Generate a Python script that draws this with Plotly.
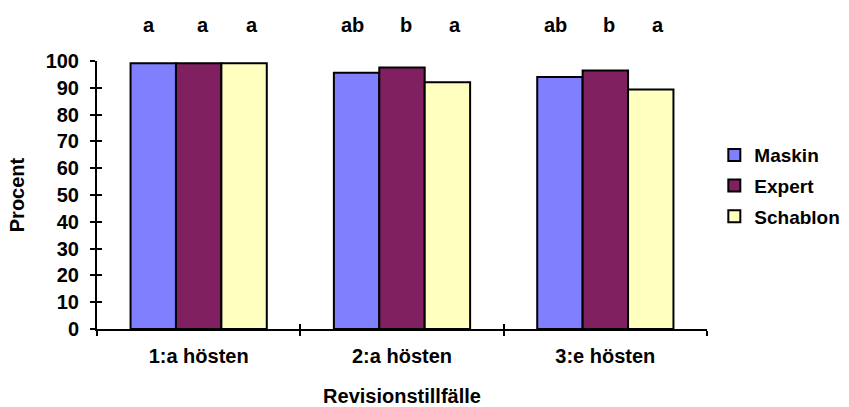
import plotly.graph_objects as go

categories = ["1:a hösten", "2:a hösten", "3:e hösten"]
series_names = ["Maskin", "Expert", "Schablon"]
maskin = [99.2, 95.6, 94.0]
expert = [99.2, 97.6, 96.5]
schablon = [99.2, 92.1, 89.4]
letters = [["a", "a", "a"], ["ab", "b", "a"], ["ab", "b", "a"]]
colors = ["#8080FF", "#802060", "#FFFFC0"]

FONT = "Liberation Sans, Arial, sans-serif"
FS = 20

fig = go.Figure()
for i, (name, vals) in enumerate(zip(series_names, [maskin, expert, schablon])):
    fig.add_trace(go.Bar(
        x=categories, y=vals, name=name, legendgroup=name,
        marker=dict(color=colors[i], line=dict(color="black", width=2)),
    ))

# invisible trace on overlay axes for crossing tick marks
fig.add_trace(go.Scatter(x=categories, y=[0, 0, 0], xaxis="x2", yaxis="y2",
                         mode="markers", marker=dict(opacity=0), showlegend=False,
                         hoverinfo="skip"))

ann = []
shifts = [-50, 4, 53]
for ci, cat in enumerate(categories):
    for si in range(3):
        ann.append(dict(x=cat, y=1.135, xref="x", yref="paper", yanchor="middle",
                        text=letters[ci][si], showarrow=False, xshift=shifts[si],
                        font=dict(family=FONT, size=FS, color="black", weight="bold")))

fig.update_layout(
    width=849, height=407,
    margin=dict(l=97, r=142, t=61, b=78, autoexpand=False),
    paper_bgcolor="white", plot_bgcolor="white",
    barmode="group", bargap=0.33, bargroupgap=0,
    font=dict(family=FONT, size=FS, color="black", weight="bold"),
    annotations=ann,
    xaxis=dict(
        automargin=False,
        showline=True, linecolor="black", linewidth=2,
        ticks="outside", tickson="boundaries", ticklen=5, tickwidth=2, tickcolor="black",
        ticklabelstandoff=8,
        tickfont=dict(family=FONT, size=FS, color="black", weight="bold"),
        title=dict(text="Revisionstillfälle", standoff=27,
                   font=dict(family=FONT, size=FS, color="black", weight="bold")),
        showgrid=False, zeroline=False,
    ),
    yaxis=dict(
        automargin=False,
        range=[0, 100], tickvals=list(range(0, 101, 10)),
        showline=True, linecolor="black", linewidth=2,
        ticks="outside", ticklen=5, tickwidth=2, tickcolor="black",
        ticklabelstandoff=7,
        tickfont=dict(family=FONT, size=FS, color="black", weight="bold"),
        title=dict(text="Procent", standoff=16,
                   font=dict(family=FONT, size=FS, color="black", weight="bold")),
        showgrid=False, zeroline=False,
    ),
    xaxis2=dict(overlaying="x", matches="x", ticks="inside", tickson="boundaries",
                ticklen=5, tickwidth=2, tickcolor="black", showticklabels=False,
                showline=False, showgrid=False, zeroline=False, automargin=False),
    yaxis2=dict(overlaying="y", matches="y", ticks="inside", tickvals=list(range(0, 101, 10)),
                ticklen=5, tickwidth=2, tickcolor="black", showticklabels=False,
                showline=False, showgrid=False, zeroline=False, automargin=False),
    legend=dict(x=1.012, y=0.72, xanchor="left", yanchor="top",
                tracegroupgap=3, itemsizing="constant",
                font=dict(family=FONT, size=19, color="black", weight="bold")),
    showlegend=True,
)

fig.write_html("out.html")
